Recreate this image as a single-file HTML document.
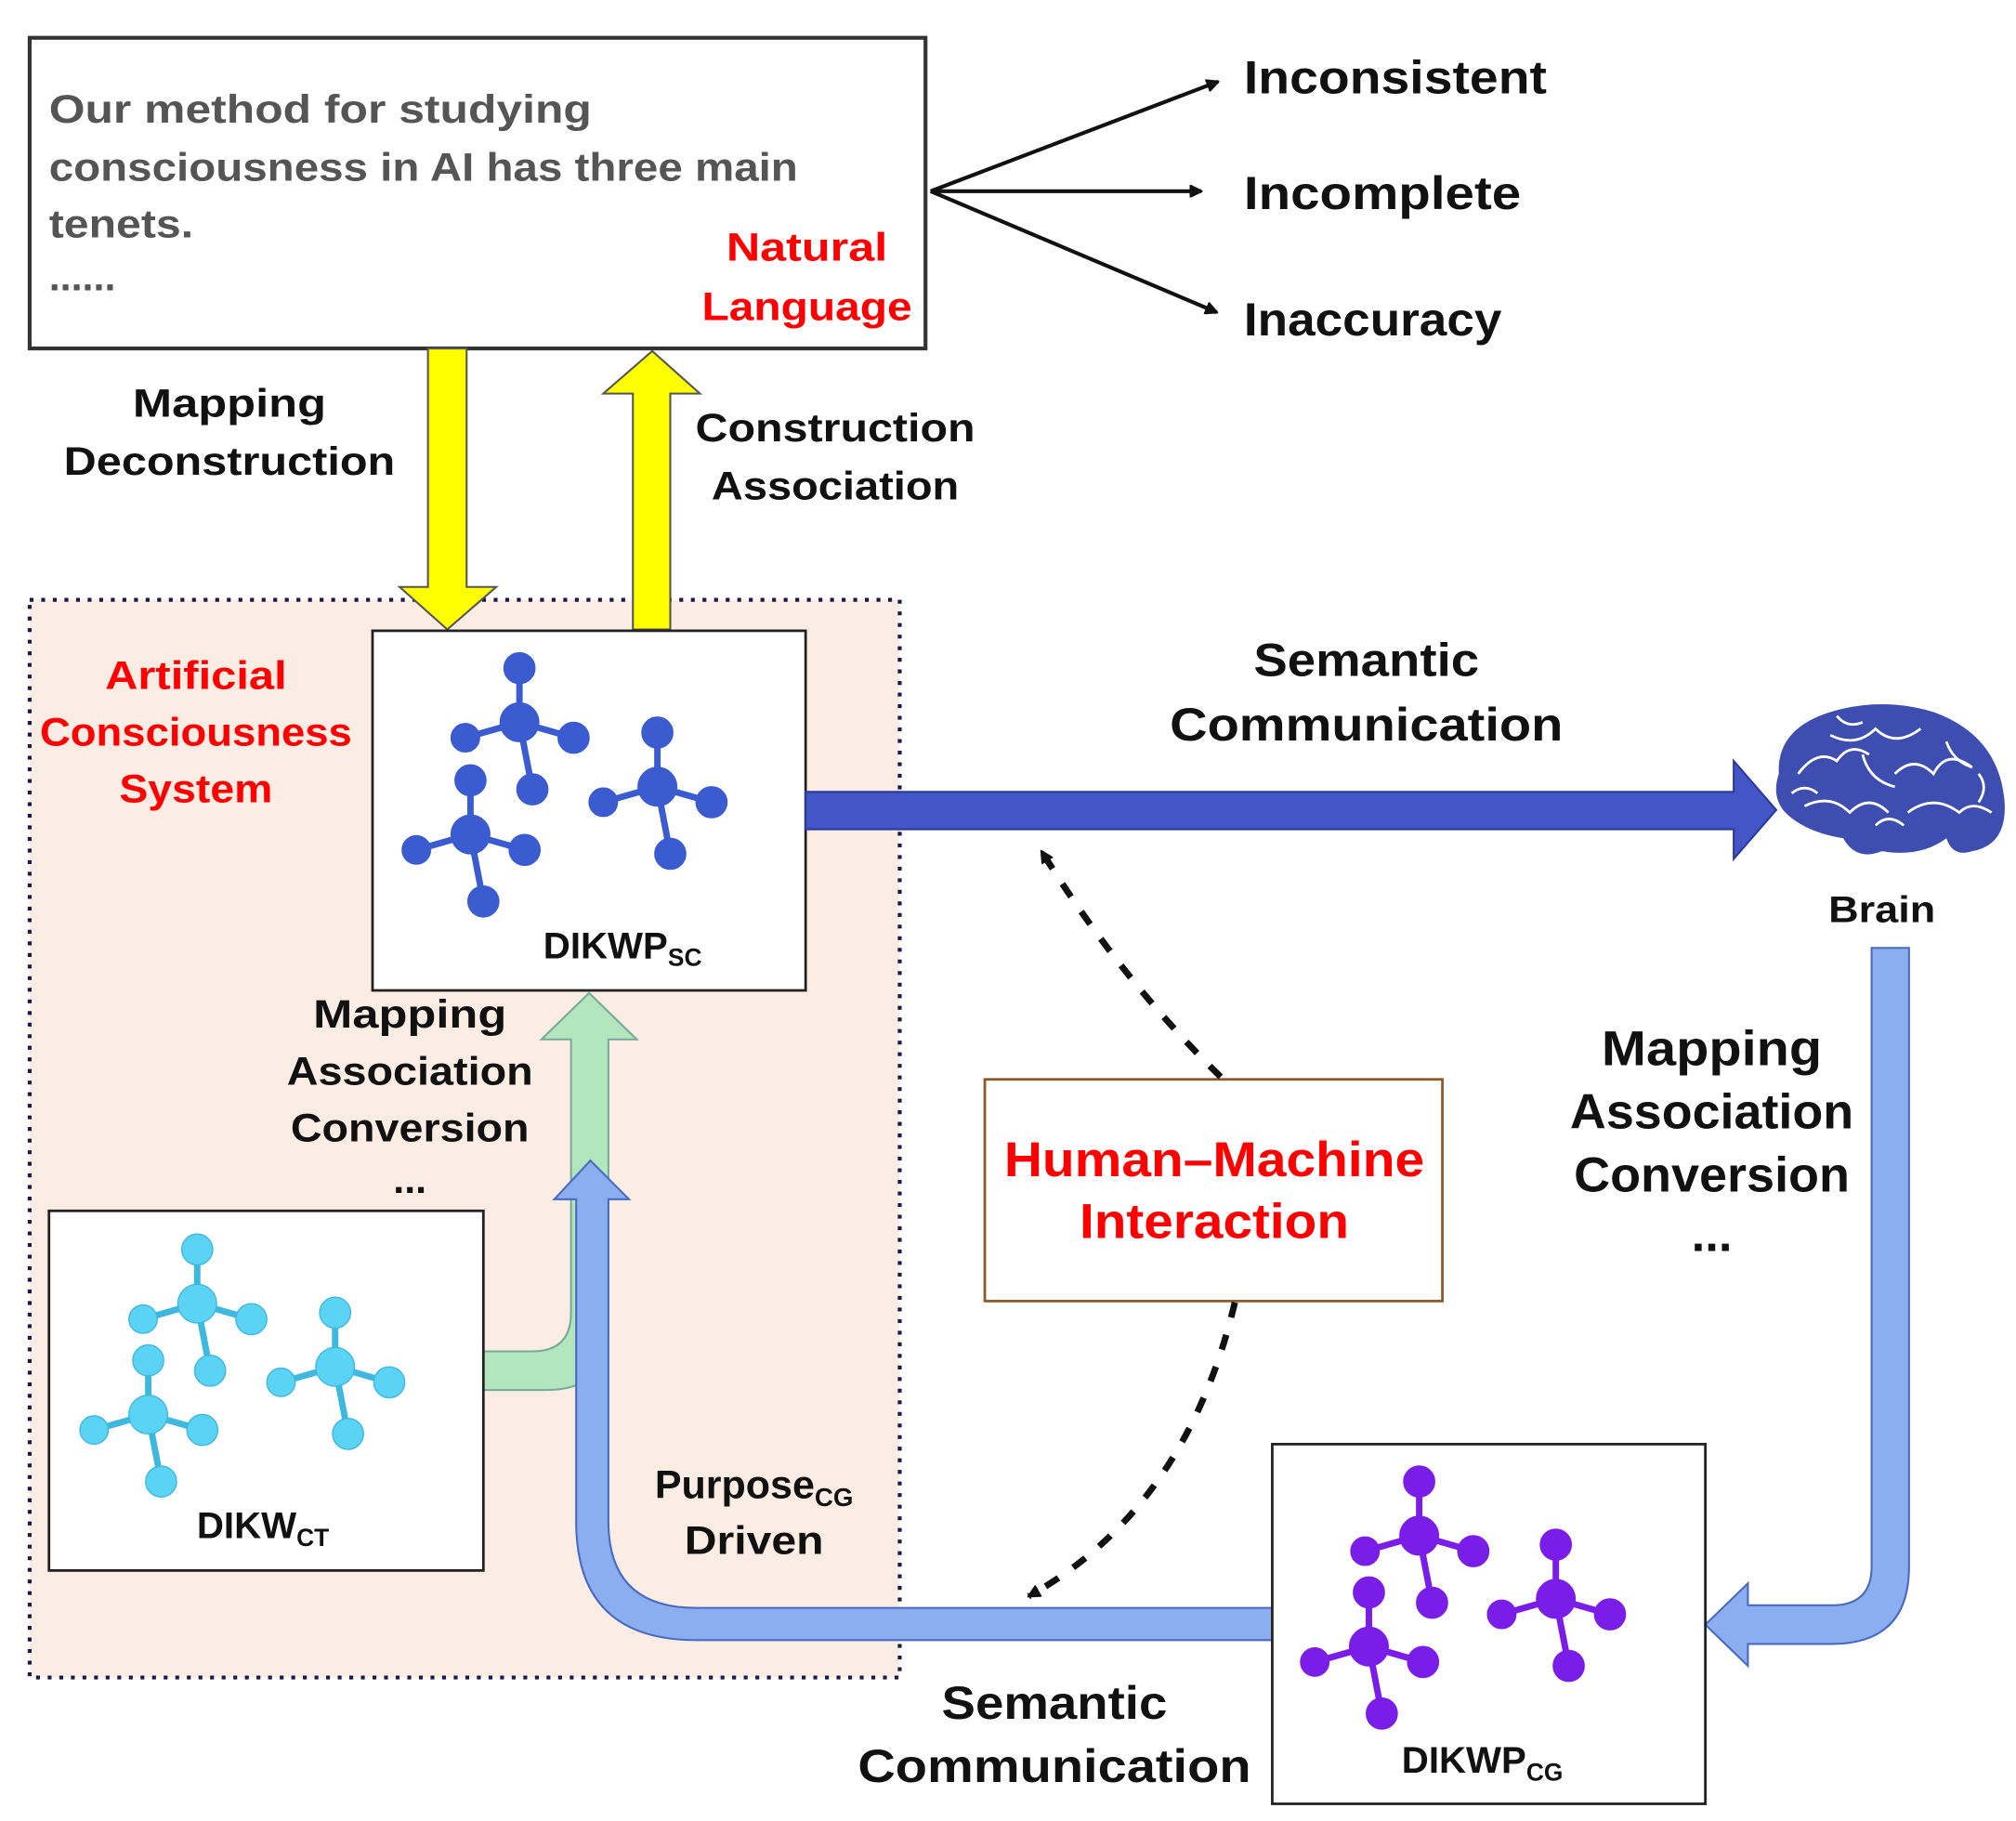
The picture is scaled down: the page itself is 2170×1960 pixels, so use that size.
<!DOCTYPE html>
<html><head><meta charset="utf-8"><style>
html,body{margin:0;padding:0;background:#fff}
svg{display:block}
text{font-family:"Liberation Sans",sans-serif;font-weight:bold}
</style></head><body>
<svg width="2170" height="1960" viewBox="0 0 1564 1412" xmlns="http://www.w3.org/2000/svg">
<defs>
<marker id="ah" markerWidth="10" markerHeight="10" refX="9" refY="5" orient="auto" markerUnits="userSpaceOnUse"><path d="M0,0 L10,5 L0,10 z" fill="#111" transform="scale(2) translate(-4.5,-2.5)"/></marker>
<g id="mol">
<g stroke-width="5" stroke-linecap="round">
<line x1="0" y1="0" x2="0" y2="-42"/><line x1="0" y1="0" x2="-42" y2="12"/><line x1="0" y1="0" x2="42" y2="12"/><line x1="0" y1="0" x2="10" y2="52"/>
</g>
<circle r="15" cx="0" cy="0"/><circle r="12" cx="0" cy="-42"/><circle r="11" cx="-42" cy="12"/><circle r="12" cx="42" cy="12"/><circle r="12" cx="10" cy="52"/>
</g>
</defs>

<rect x="23" y="29" width="695" height="241" fill="#fff" stroke="#333" stroke-width="3"/>
<g fill="#555" font-size="31" lengthAdjust="spacingAndGlyphs">
<text x="38" y="95" textLength="421" lengthAdjust="spacingAndGlyphs">Our method for studying</text>
<text x="38" y="140" textLength="581" lengthAdjust="spacingAndGlyphs">consciousness in AI has three main</text>
<text x="38" y="184" textLength="112" lengthAdjust="spacingAndGlyphs">tenets.</text>
<text x="38" y="225">......</text>
</g>
<g fill="#f00" font-size="31" text-anchor="middle">
<text x="626" y="202" textLength="125" lengthAdjust="spacingAndGlyphs">Natural</text><text x="626" y="248" textLength="163" lengthAdjust="spacingAndGlyphs">Language</text>
</g>
<g stroke="#111" stroke-width="3" fill="none">
<line x1="722" y1="148" x2="945" y2="63" marker-end="url(#ah)"/>
<line x1="722" y1="148" x2="932" y2="148" marker-end="url(#ah)"/>
<line x1="722" y1="148" x2="944" y2="242" marker-end="url(#ah)"/>
</g>
<g fill="#111" font-size="36">
<text x="965" y="72" textLength="235" lengthAdjust="spacingAndGlyphs">Inconsistent</text><text x="965" y="162" textLength="215" lengthAdjust="spacingAndGlyphs">Incomplete</text><text x="965" y="260" textLength="200" lengthAdjust="spacingAndGlyphs">Inaccuracy</text>
</g>

<rect x="23" y="465" width="675" height="836" fill="#fcede4" stroke="#1a1a4a" stroke-width="3" stroke-dasharray="3,6"/>
<g fill="#f00" font-size="31" text-anchor="middle">
<text x="152" y="534" textLength="141" lengthAdjust="spacingAndGlyphs">Artificial</text><text x="152" y="578" textLength="242" lengthAdjust="spacingAndGlyphs">Consciousness</text><text x="152" y="622" textLength="119" lengthAdjust="spacingAndGlyphs">System</text>
</g>

<path d="M332,270 H362 V455 H385 L347,488 L310,455 H332 Z" fill="#ffff00" stroke="#555" stroke-width="1.5"/>
<path d="M491,488 V305 H468 L506,272 L543,305 H520 V488 Z" fill="#ffff00" stroke="#555" stroke-width="1.5"/>
<g fill="#111" font-size="31" text-anchor="middle">
<text x="178" y="323" textLength="150" lengthAdjust="spacingAndGlyphs">Mapping</text><text x="178" y="368" textLength="257" lengthAdjust="spacingAndGlyphs">Deconstruction</text>
<text x="648" y="342" textLength="217" lengthAdjust="spacingAndGlyphs">Construction</text><text x="648" y="387" textLength="192" lengthAdjust="spacingAndGlyphs">Association</text>
</g>

<path d="M375,1048 H413 Q443,1048 443,1018 V806 H420 L457,770 L494,806 H472 V1030 Q472,1078 424,1078 H375 Z" fill="#b3e6bd" stroke="#7a9" stroke-width="1.5"/>

<rect x="289" y="489" width="336" height="279" fill="#fff" stroke="#222" stroke-width="2"/>
<g fill="#3b5bd0" stroke="#3b5bd0"><use href="#mol" x="403" y="560"/><use href="#mol" x="365" y="647"/><use href="#mol" x="510" y="610"/></g>
<text x="483" y="743" font-size="29" text-anchor="middle" fill="#111">DIKWP<tspan font-size="19" dy="6">SC</tspan></text>

<path d="M625,614 H1345 V590 L1378,628 L1345,666 V643 H625 Z" fill="#4455c8" stroke="#2a3a9a" stroke-width="1.5"/>
<g fill="#111" font-size="36" text-anchor="middle">
<text x="1060" y="524" textLength="175" lengthAdjust="spacingAndGlyphs">Semantic</text><text x="1060" y="574" textLength="305" lengthAdjust="spacingAndGlyphs">Communication</text>
</g>

<g>
<path d="M1380,600 Q1378,565 1420,552 Q1460,540 1500,552 Q1550,570 1555,620 Q1558,655 1530,660 Q1515,665 1510,650 Q1490,665 1460,660 Q1440,668 1430,650 Q1400,645 1385,630 Q1374,618 1380,600 Z" fill="#3d4db0"/>
<g stroke="#fff" stroke-width="2" fill="none">
<path d="M1395,600 q15,-20 30,-10 q10,-15 25,-5"/><path d="M1420,570 q20,10 35,-5 q15,15 35,0"/><path d="M1470,600 q15,-15 30,0 q10,-20 30,-5"/>
<path d="M1400,625 q20,-10 35,5 q15,-15 30,0"/><path d="M1480,630 q20,-15 40,0 q10,-10 25,0"/><path d="M1445,585 q5,20 25,25"/><path d="M1510,575 q5,15 20,20"/>
<path d="M1390,615 q10,-8 20,0"/><path d="M1535,600 q8,10 0,22"/><path d="M1455,640 q10,-10 22,0"/><path d="M1425,555 q8,10 20,5"/>
</g>
</g>
<text x="1460" y="715" font-size="29" text-anchor="middle" fill="#111" textLength="83" lengthAdjust="spacingAndGlyphs">Brain</text>

<path d="M1452,735 H1481 V1215 Q1481,1275 1421,1275 H1356 V1292 L1323,1260 L1356,1228 V1245 H1421 Q1452,1245 1452,1215 Z" fill="#8aaef0" stroke="#4a6ac0" stroke-width="1.5"/>
<g fill="#111" font-size="38" text-anchor="middle">
<text x="1328" y="826" textLength="171" lengthAdjust="spacingAndGlyphs">Mapping</text><text x="1328" y="875" textLength="220" lengthAdjust="spacingAndGlyphs">Association</text><text x="1328" y="924" textLength="214" lengthAdjust="spacingAndGlyphs">Conversion</text><text x="1328" y="970">...</text>
</g>

<path d="M987,1247 H540 Q472,1247 472,1180 V930 H488 L458,900 L430,930 H447 V1180 Q447,1272 540,1272 H987 Z" fill="#8aaef0" stroke="#4a6ac0" stroke-width="1.5"/>

<g fill="#111" font-size="31" text-anchor="middle">
<text x="318" y="797" textLength="150" lengthAdjust="spacingAndGlyphs">Mapping</text><text x="318" y="841" textLength="191" lengthAdjust="spacingAndGlyphs">Association</text><text x="318" y="885" textLength="185" lengthAdjust="spacingAndGlyphs">Conversion</text><text x="318" y="925">...</text>
<text x="585" y="1162">Purpose<tspan font-size="20" dy="6">CG</tspan></text><text x="585" y="1205" textLength="108" lengthAdjust="spacingAndGlyphs">Driven</text>
</g>

<rect x="38" y="939" width="337" height="279" fill="#fff" stroke="#222" stroke-width="2"/>
<g fill="#5bd3f5" stroke="#3fb8e0"><use href="#mol" x="153" y="1011"/><use href="#mol" x="115" y="1097"/><use href="#mol" x="260" y="1060"/></g>
<text x="204" y="1193" font-size="29" text-anchor="middle" fill="#111">DIKW<tspan font-size="19" dy="6">CT</tspan></text>

<rect x="764" y="837" width="355" height="172" fill="#fff" stroke="#8b5a2b" stroke-width="2"/>
<g fill="#f00" font-size="38" text-anchor="middle"><text x="942" y="912" textLength="326" lengthAdjust="spacingAndGlyphs">Human–Machine</text><text x="942" y="960" textLength="209" lengthAdjust="spacingAndGlyphs">Interaction</text></g>

<g stroke="#111" stroke-width="5" fill="none" stroke-dasharray="12,14">
<path d="M947,835 Q870,760 808,660" marker-end="url(#ah)"/>
<path d="M958,1010 Q920,1170 798,1238" marker-end="url(#ah)"/>
</g>

<rect x="987" y="1120" width="336" height="279" fill="#fff" stroke="#222" stroke-width="2"/>
<g fill="#7a1de8" stroke="#7a1de8"><use href="#mol" x="1101" y="1191"/><use href="#mol" x="1062" y="1277"/><use href="#mol" x="1207" y="1240"/></g>
<text x="1150" y="1375" font-size="29" text-anchor="middle" fill="#111">DIKWP<tspan font-size="19" dy="6">CG</tspan></text>

<g fill="#111" font-size="36" text-anchor="middle"><text x="818" y="1333" textLength="175" lengthAdjust="spacingAndGlyphs">Semantic</text><text x="818" y="1382" textLength="305" lengthAdjust="spacingAndGlyphs">Communication</text></g>
</svg>
</body></html>
